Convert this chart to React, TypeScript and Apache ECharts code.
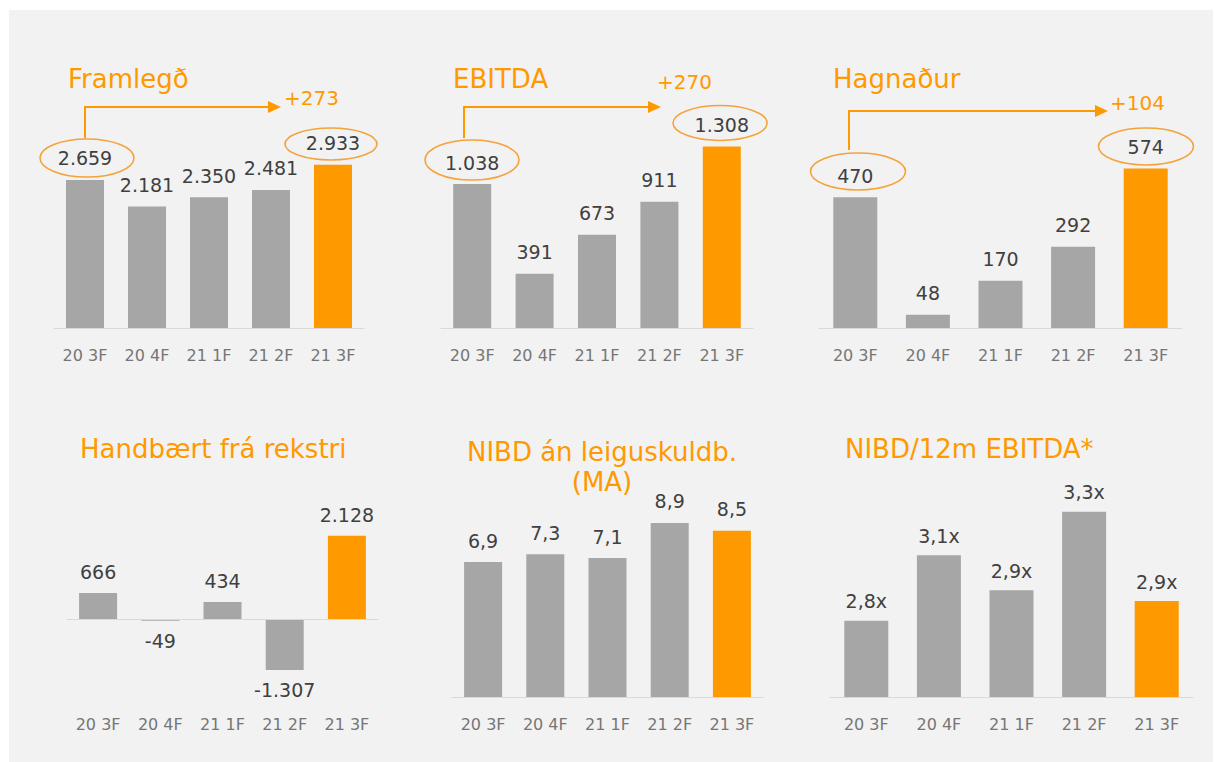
import React, { useEffect, useRef } from "react";
import * as echarts from "echarts";

const categories = ["20 3F", "20 4F", "21 1F", "21 2F", "21 3F"];
const framlegd = [2659, 2181, 2350, 2481, 2933];
const ebitda = [1038, 391, 673, 911, 1308];
const hagnadur = [470, 48, 170, 292, 574];
const handbaert = [666, -49, 434, -1307, 2128];
const nibd = [6.9, 7.3, 7.1, 8.9, 8.5];
const nibdRatio = [2.8, 3.1, 2.94, 3.3, 2.89];
const titles = [
  "Framlegð",
  "EBITDA",
  "Hagnaður",
  "Handbært frá rekstri",
  "NIBD án leiguskuldb.\n(MA)",
  "NIBD/12m EBITDA*",
];
const changes = ["+273", "+270", "+104"];

const ORANGE = "#ff9900";
const GRAY = "#a6a6a6";
const FONT = "DejaVu Sans";

const fmtThousands = (v: number) => {
  const s = Math.abs(v).toString().replace(/\B(?=(\d{3})+(?!\d))/g, ".");
  return (v < 0 ? "-" : "") + s;
};
const fmtDec = (v: number) => v.toFixed(1).replace(".", ",");
const fmtRatio = (v: number) => fmtDec(v) + "x";

// layout of each panel (pixels)
const panels = [
  { left: 54, width: 310, top: 161, height: 167, min: 0, max: 3000, barWidth: 38, dist: 12, margin: 19, data: framlegd, fmt: fmtThousands },
  { left: 441, width: 312, top: 133.8, height: 194.2, min: 0, max: 1400, barWidth: 38, dist: 12, margin: 19, data: ebitda, fmt: fmtThousands },
  { left: 819, width: 363, top: 161.2, height: 166.8, min: 0, max: 600, barWidth: 44, dist: 12, margin: 19, data: hagnadur, fmt: fmtThousands },
  { left: 67, width: 311, top: 533, height: 144.5, min: -1500, max: 2200, barWidth: 38, dist: 11, margin: 39, data: handbaert, fmt: fmtThousands },
  { left: 452, width: 311, top: 501.4, height: 195.6, min: 0, max: 10, barWidth: 38, dist: 12, margin: 19, data: nibd, fmt: fmtDec },
  { left: 830, width: 363, top: 489.9, height: 207.1, min: 2.45, max: 3.4, barWidth: 44, dist: 10, margin: 19, data: nibdRatio, fmt: fmtRatio },
];

const titlePos = [
  { left: 68, top: 64, align: "left" },
  { left: 453, top: 64, align: "left" },
  { left: 833, top: 64, align: "left" },
  { left: 80, top: 434, align: "left" },
  { left: 602, top: 437, align: "center" },
  { left: 845, top: 434, align: "left" },
];

const arrows = [
  { x: 85, yBottom: 138, yTop: 107, tip: 281, tx: 284, ty: 98 },
  { x: 464, yBottom: 138, yTop: 107, tip: 661, tx: 657, ty: 82 },
  { x: 849, yBottom: 150, yTop: 111, tip: 1108, tx: 1110, ty: 103 },
];

const ellipses = [
  { cx: 87, cy: 158, rx: 47, ry: 19 },
  { cx: 331, cy: 144, rx: 46, ry: 16 },
  { cx: 472, cy: 160, rx: 47, ry: 20 },
  { cx: 720, cy: 123, rx: 47, ry: 17.5 },
  { cx: 858, cy: 171.5, rx: 47.5, ry: 18.5 },
  { cx: 1146, cy: 146.5, rx: 47.5, ry: 18.5 },
];

export default function App() {
  const ref = useRef<HTMLDivElement>(null);
  useEffect(() => {
    document.body.style.margin = "0";
    if (!ref.current) return;
    const chart = echarts.init(ref.current, undefined, { renderer: "svg" });

    const grid = panels.map((p) => ({ left: p.left, top: p.top, width: p.width, height: p.height, containLabel: false }));
    const xAxis = panels.map((p, i) => ({
      type: "category",
      gridIndex: i,
      data: categories,
      axisTick: { show: false },
      axisLine: { show: i !== 3, onZero: false, lineStyle: { color: "#d9d9d9", width: 1 } },
      axisLabel: { color: "#767676", fontSize: 16, fontFamily: FONT, margin: p.margin },
    }));
    const yAxis = panels.map((p, i) => ({
      type: "value",
      gridIndex: i,
      min: p.min,
      max: p.max,
      show: false,
      splitLine: { show: false },
    }));
    const series = panels.map((p, i) => ({
      type: "bar",
      xAxisIndex: i,
      yAxisIndex: i,
      barWidth: p.barWidth,
      data: p.data.map((v, j) => ({
        value: v,
        itemStyle: { color: j === 4 ? ORANGE : GRAY },
        label: { position: v < 0 ? "bottom" : "top" },
      })),
      label: {
        show: true,
        distance: p.dist,
        color: "#404040",
        fontSize: 19,
        fontFamily: FONT,
        formatter: (d: any) => p.fmt(d.value),
      },
      markLine:
        i === 3
          ? {
              silent: true,
              symbol: ["none", "none"],
              label: { show: false },
              lineStyle: { color: "#d9d9d9", type: "solid", width: 1 },
              data: [{ yAxis: 0 }],
            }
          : undefined,
    }));

    const title = titles.map((t, i) => ({
      text: t,
      left: titlePos[i].left,
      top: titlePos[i].top,
      textAlign: titlePos[i].align,
      padding: 0,
      textStyle: { color: ORANGE, fontSize: 26, fontWeight: "normal", fontFamily: FONT, lineHeight: 30 },
    }));

    const elements: any[] = [
      { type: "rect", z: -10, shape: { x: 9, y: 10, width: 1204, height: 752 }, style: { fill: "#f2f2f2" }, silent: true },
    ];
    arrows.forEach((a, i) => {
      elements.push({
        type: "polyline",
        shape: { points: [[a.x, a.yBottom], [a.x, a.yTop], [a.tip - 12, a.yTop]] },
        style: { stroke: ORANGE, lineWidth: 2, fill: "none" },
      });
      elements.push({
        type: "polygon",
        shape: { points: [[a.tip - 13, a.yTop - 6], [a.tip, a.yTop], [a.tip - 13, a.yTop + 6]] },
        style: { fill: ORANGE },
      });
      elements.push({
        type: "text",
        x: a.tx,
        y: a.ty,
        style: { text: changes[i], fill: ORANGE, font: `20px "${FONT}"`, align: "left", verticalAlign: "middle" },
      });
    });
    ellipses.forEach((e) => {
      elements.push({
        type: "ellipse",
        shape: { cx: e.cx, cy: e.cy, rx: e.rx, ry: e.ry },
        style: { fill: "none", stroke: "#f4a33c", lineWidth: 1.6 },
      });
    });

    chart.setOption({
      animation: false,
      backgroundColor: "#ffffff",
      title,
      grid,
      xAxis,
      yAxis,
      series,
      graphic: { elements },
    });
    return () => chart.dispose();
  }, []);
  return <div ref={ref} style={{ width: 1215, height: 762 }} />;
}
